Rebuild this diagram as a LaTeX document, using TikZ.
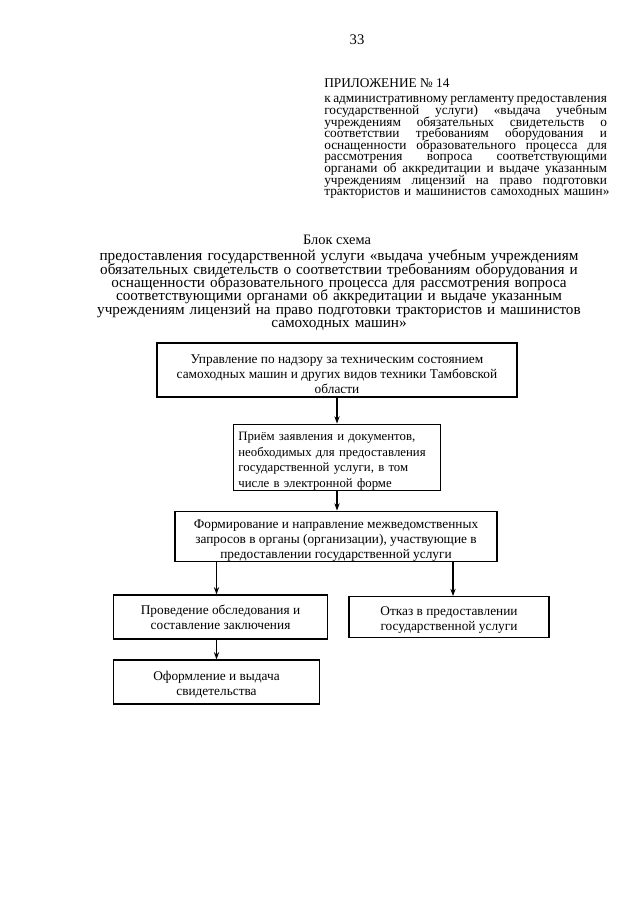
\documentclass[tikz,border=0pt]{standalone}
\usepackage{fontspec}
\setmainfont{Liberation Serif}
\usetikzlibrary{arrows.meta}
\newcommand\boxfont{\fontsize{10}{11.4}\selectfont\lineskiplimit=-20pt\relax}
\newcommand\boxfontb{\fontsize{9.6}{11.6}\selectfont\lineskiplimit=-20pt\relax}
\newcommand\hdrfont{\fontsize{10}{8.7}\selectfont\lineskiplimit=-20pt\relax}
\newcommand\ttlfont{\fontsize{11.4}{10}\selectfont\lineskiplimit=-20pt\relax}
\newcommand\jline[1]{\makebox[212pt][s]{\spaceskip=0pt\xspaceskip=0pt\relax #1}}
\newcommand\topstrut[1]{\rule{0pt}{#1}}
\begin{document}
\begin{tikzpicture}[x=0.75pt,y=-0.75pt,
  box/.style={draw, line width=0.9pt, align=center, inner sep=0pt, font=\boxfont},
  plain/.style={inner sep=0pt},
  arr/.style={-{Stealth[length=5.5pt,width=4pt]}, line width=0.8pt}]
\path[use as bounding box, fill=white] (0,0) rectangle (640,905);

% page number and appendix header
\node[plain, anchor=base, font=\fontsize{11}{13}\selectfont] (pg) at (357,45) {33};
\node[plain, anchor=base west, font=\fontsize{10}{12}\selectfont] (app) at (324,88) {ПРИЛОЖЕНИЕ № 14};
\node[plain, anchor=base west, text width=240pt, align=left, font=\hdrfont] (reg) at (324,103) {%
\jline{к административному регламенту предоставления}\\
\jline{государственной услуги) «выдача учебным}\\
\jline{учреждениям обязательных свидетельств о}\\
\jline{соответствии требованиям оборудования и}\\
\jline{оснащенности образовательного процесса для}\\
\jline{рассмотрения вопроса соответствующими}\\
\jline{органами об аккредитации и выдаче указанным}\\
\jline{учреждениям лицензий на право подготовки}\\
трактористов и машинистов самоходных машин»};

% title
\node[plain, anchor=base, font=\fontsize{10.8}{14}\selectfont] (ttl) at (337,245) {Блок схема};
\node[plain, anchor=base, text width=440pt, align=center, font=\ttlfont] (sub) at (339,261) {%
предоставления государственной услуги «выдача учебным учреждениям\\
обязательных свидетельств о соответствии требованиям оборудования и\\
оснащенности образовательного процесса для рассмотрения вопроса\\
соответствующими органами об аккредитации и выдаче указанным\\
учреждениям лицензий на право подготовки трактористов и машинистов\\
самоходных машин»};

% boxes
\node[box, minimum width=270pt, minimum height=40.5pt] (b1) at (337,370)
  {\topstrut{13pt}Управление по надзору за техническим состоянием\\самоходных машин и других видов техники Тамбовской\\области};
\node[box, minimum width=155pt, minimum height=50pt, text width=148pt, align=left,
  inner xsep=3.5pt, font=\boxfontb] (b2) at (337,457.5)
  {\topstrut{12pt}Приём заявления и документов,\\необходимых для предоставления\\государственной услуги, в том\\числе в электронной форме};
\node[box, minimum width=241.5pt, minimum height=38pt] (b3) at (336,536.5)
  {\topstrut{13pt}Формирование и направление межведомственных\\запросов в органы (организации), участвующие в\\предоставлении государственной услуги};
\node[box, minimum width=161pt, minimum height=33pt] (b4) at (220.5,617)
  {Проведение обследования и\\составление заключения};
\node[box, minimum width=150pt, minimum height=30.5pt] (b5) at (449,617)
  {\topstrut{11.5pt}Отказ в предоставлении\\государственной услуги};
\node[box, minimum width=155pt, minimum height=33pt] (b6) at (216.5,682)
  {\topstrut{11.5pt}Оформление и выдача\\свидетельства};

% connectors
\draw[arr] (b1.south -| b2.north) -- (b2.north);
\draw[arr] (b2.south) -- (b2.south |- b3.north);
\draw[arr] ([xshift=-3pt]b4.north |- b3.south) -- ([xshift=-3pt]b4.north);
\draw[arr] ([xshift=3pt]b5.north |- b3.south) -- ([xshift=3pt]b5.north);
\draw[arr] (b6.north |- b4.south) -- (b6.north);
\end{tikzpicture}
\end{document}
